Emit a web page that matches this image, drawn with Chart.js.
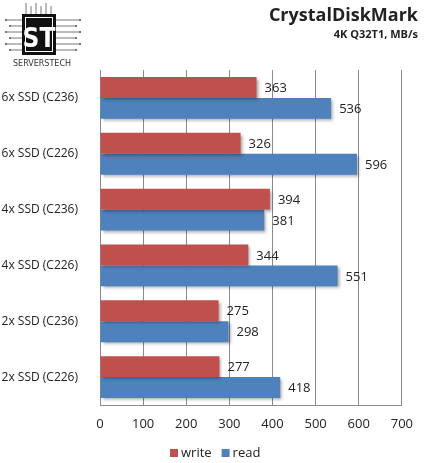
<!DOCTYPE html>
<html>
<head>
<meta charset="utf-8">
<script src="https://cdn.jsdelivr.net/npm/chart.js@4/dist/chart.umd.min.js"></script>
<style>
  html, body { margin: 0; padding: 0; background: #fff; }
  #wrap { width: 424px; height: 463px; position: relative; }
</style>
</head>
<body>
<div id="wrap"><canvas id="ssdChart"></canvas></div>
<script>
// Datos (MB/s, 4K Q32T1)
const categories = ['6x SSD (C236)', '6x SSD (C226)', '4x SSD (C236)', '4x SSD (C226)', '2x SSD (C236)', '2x SSD (C226)'];
const writeValues = [363, 326, 394, 344, 275, 277];
const readValues = [536, 596, 381, 551, 298, 418];
const xTicks = [0, 100, 200, 300, 400, 500, 600, 700];

const FONT = "'Open Sans', 'Liberation Sans', sans-serif";

// Sombra suave bajo las barras, como en Excel
const shadowPlugin = {
  id: 'barShadow',
  beforeDatasetDraw(chart) {
    const ctx = chart.ctx;
    ctx.save();
    ctx.shadowColor = 'rgba(0,0,0,0.35)';
    ctx.shadowBlur = 3;
    ctx.shadowOffsetX = 2;
    ctx.shadowOffsetY = 2;
  },
  afterDatasetDraw(chart) {
    chart.ctx.restore();
  }
};

// Etiquetas de valor a la derecha de cada barra
const valueLabels = {
  id: 'valueLabels',
  afterDatasetsDraw(chart) {
    const ctx = chart.ctx;
    ctx.save();
    ctx.font = '13px ' + FONT;
    ctx.fillStyle = '#222';
    ctx.textBaseline = 'middle';
    chart.data.datasets.forEach((ds, i) => {
      chart.getDatasetMeta(i).data.forEach((bar, j) => {
        ctx.fillText(String(ds.data[j]), bar.x + 8, bar.y + 1);
      });
    });
    ctx.restore();
  }
};

// Leyenda propia, centrada debajo del eje
const legendBox = {
  id: 'legendBox',
  afterDraw(chart) {
    const ctx = chart.ctx;
    ctx.save();
    ctx.font = '13px ' + FONT;
    ctx.textBaseline = 'middle';
    let x = 170;
    const y = 453;
    chart.data.datasets.forEach(ds => {
      ctx.fillStyle = ds.backgroundColor;
      ctx.fillRect(x, y - 4, 8, 8);
      ctx.fillStyle = '#222';
      ctx.fillText(ds.label, x + 11, y);
      x += 11 + ctx.measureText(ds.label).width + 10;
    });
    ctx.restore();
  }
};

// Título, subtítulo y logotipo
const header = {
  id: 'header',
  afterDraw(chart) {
    const ctx = chart.ctx;
    ctx.save();
    ctx.fillStyle = '#222';
    ctx.textAlign = 'right';
    ctx.textBaseline = 'alphabetic';
    ctx.font = 'bold 18px ' + FONT;
    ctx.fillText('CrystalDiskMark', 418, 21);
    ctx.font = 'bold 11px ' + FONT;
    ctx.fillText('4K Q32T1, MB/s', 418, 38);

    // logotipo simplificado
    ctx.strokeStyle = '#777';
    ctx.fillStyle = '#777';
    ctx.lineWidth = 1;
    for (let k = 0; k < 6; k++) {
      const y = 20 + k * 6;
      ctx.beginPath(); ctx.moveTo(6 + (k % 2) * 4, y); ctx.lineTo(22, y); ctx.stroke();
      ctx.beginPath(); ctx.moveTo(56, y); ctx.lineTo(80 - (k % 2) * 4, y); ctx.stroke();
      ctx.fillRect(5 + (k % 2) * 4, y - 1, 2, 2);
      ctx.fillRect(79 - (k % 2) * 4, y - 1, 2, 2);
      const x = 26 + k * 5;
      ctx.beginPath(); ctx.moveTo(x, 3 + (k % 2) * 3); ctx.lineTo(x, 14); ctx.stroke();
    }
    ctx.fillStyle = '#111';
    ctx.fillRect(22, 14, 34, 41);
    ctx.strokeStyle = '#fff';
    ctx.strokeRect(25.5, 17.5, 27, 34);
    ctx.fillStyle = '#fff';
    ctx.textAlign = 'center';
    ctx.font = 'bold 26px "DejaVu Sans Condensed", sans-serif';
    ctx.fillText('ST', 39, 47);
    ctx.fillStyle = '#333';
    ctx.font = '8px "DejaVu Sans", sans-serif';
    ctx.fillText('SERVERSTECH', 42, 66);
    ctx.restore();
  }
};

const ctx = document.getElementById('ssdChart').getContext('2d');
window.chart = new Chart(ctx, {
  type: 'bar',
  data: {
    labels: categories,
    datasets: [
      { label: 'write', data: writeValues, backgroundColor: '#c0504d', categoryPercentage: 0.75, barPercentage: 1.0 },
      { label: 'read', data: readValues, backgroundColor: '#4f81bd', categoryPercentage: 0.75, barPercentage: 1.0 }
    ]
  },
  options: {
    indexAxis: 'y',
    responsive: true,
    maintainAspectRatio: false,
    animation: false,
    layout: { padding: { top: 70, right: 20, left: 0, bottom: 0 } },
    plugins: {
      title: { display: false },
      tooltip: { enabled: false },
      legend: { display: false }
    },
    scales: {
      x: {
        min: 0,
        max: 700,
        afterBuildTicks(scale) { scale.ticks = xTicks.map(v => ({ value: v })); },
        afterFit(scale) { scale.height = 58; },
        grid: { color: '#8a8a8a', drawTicks: false },
        border: { color: '#8a8a8a' },
        ticks: { font: { family: FONT, size: 13 }, color: '#222', padding: 11 }
      },
      y: {
        afterFit(scale) { scale.width = 100; },
        grid: { display: false },
        border: { color: '#8a8a8a' },
        ticks: { font: { family: FONT, size: 12 }, color: '#222', padding: 14 }
      }
    }
  },
  plugins: [shadowPlugin, valueLabels, legendBox, header]
});
</script>
</body>
</html>
